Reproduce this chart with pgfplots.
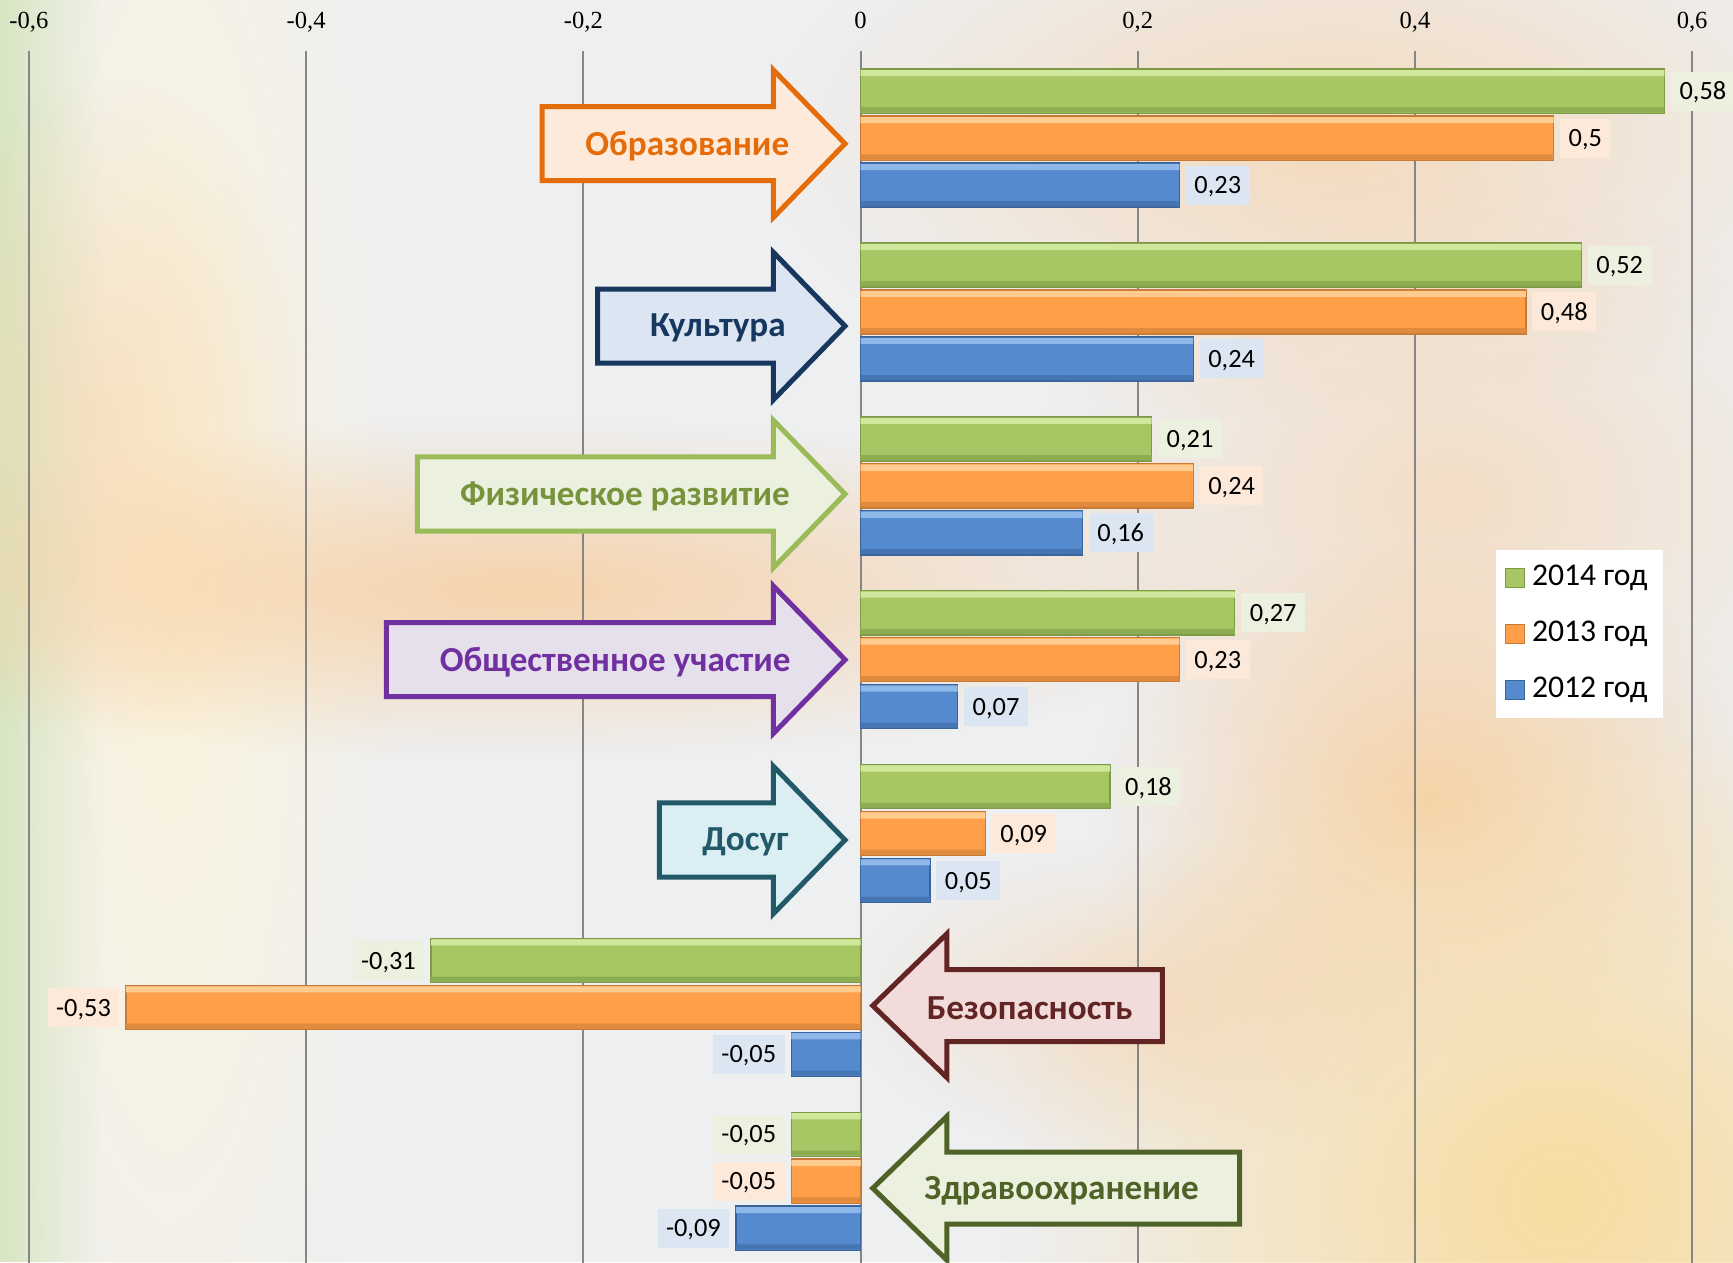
\documentclass[border=0pt]{standalone}
\usepackage{fontspec}
\setmainfont{Carlito}
\newfontfamily\tickfont{Liberation Serif}
\usepackage{pgfplots}
\usepackage{pgfplotstable}
\pgfplotsset{compat=1.18}
\usetikzlibrary{fadings}

\definecolor{bgc}{HTML}{EEEFF1}
\definecolor{peach}{HTML}{F8CC9A}
\definecolor{cream}{HTML}{FBF4DC}
\definecolor{yel}{HTML}{F8DCA0}
\definecolor{lgreenbg}{HTML}{D8E6C2}
\definecolor{gfill}{HTML}{A6C764}
\definecolor{glight}{HTML}{CFE89C}
\definecolor{gdark}{HTML}{7E9A47}
\definecolor{gshad}{HTML}{8DAD52}
\definecolor{ofill}{HTML}{FF9F4A}
\definecolor{olight}{HTML}{FFCB8E}
\definecolor{odark}{HTML}{C77A35}
\definecolor{oshad}{HTML}{E08A3E}
\definecolor{bfill}{HTML}{568ACF}
\definecolor{blight}{HTML}{8EB7EA}
\definecolor{bdark}{HTML}{3A6399}
\definecolor{bshad}{HTML}{4675B3}
\definecolor{glab}{HTML}{EBF1DE}
\definecolor{olab}{HTML}{FDE9D9}
\definecolor{blab}{HTML}{DCE6F2}
\definecolor{gridc}{RGB}{134,134,134}
% arrow colours
\definecolor{a1d}{HTML}{E46C0A}\definecolor{a1f}{HTML}{FDEADA}
\definecolor{a2d}{HTML}{17375E}\definecolor{a2f}{HTML}{DCE6F2}
\definecolor{a3d}{HTML}{9BBB59}\definecolor{a3f}{HTML}{EBF1DE}\definecolor{a3t}{HTML}{77933C}
\definecolor{a4d}{HTML}{7030A0}\definecolor{a4f}{HTML}{E6E0EC}
\definecolor{a5d}{HTML}{215968}\definecolor{a5f}{HTML}{DBEEF4}
\definecolor{a6d}{HTML}{632523}\definecolor{a6f}{HTML}{F2DCDB}
\definecolor{a7d}{HTML}{4F6228}\definecolor{a7f}{HTML}{EBF1DE}

\tikzfading[name=soft, inner color=transparent!0, outer color=transparent!100]

\newcommand{\lblfont}{\fontsize{7.5pt}{9pt}\selectfont}
\newcommand{\arrfont}{\fontsize{10pt}{12pt}\selectfont\bfseries}
\newcommand{\legfont}{\fontsize{9pt}{11pt}\selectfont}
\newcommand{\tickfnt}{\tickfont\fontsize{7pt}{8pt}\selectfont}

% 2014
\pgfplotstableread{
y x l
-0.27 0.58 0,58
0.73 0.52 0,52
1.73 0.21 0,21
2.73 0.27 0,27
3.73 0.18 0,18
}\tgreenp
\pgfplotstableread{
y x l
4.73 -0.31 -0,31
5.73 -0.05 -0,05
}\tgreenn
% 2013
\pgfplotstableread{
y x l
0 0.5 0,5
1 0.48 0,48
2 0.24 0,24
3 0.23 0,23
4 0.09 0,09
}\torangep
\pgfplotstableread{
y x l
5 -0.53 -0,53
6 -0.05 -0,05
}\torangen
% 2012
\pgfplotstableread{
y x l
0.27 0.23 0,23
1.27 0.24 0,24
2.27 0.16 0,16
3.27 0.07 0,07
4.27 0.05 0,05
}\tbluep
\pgfplotstableread{
y x l
5.27 -0.05 -0,05
6.27 -0.09 -0,09
}\tbluen

\begin{document}
\begin{tikzpicture}
\path[use as bounding box] (0,0) rectangle (173.3mm,-126.2mm);
\clip (0,0) rectangle (173.3mm,-126.2mm);
% background
\begin{scope}[x=0.1mm,y=-0.1mm]
\fill[bgc] (0,0) rectangle (1733,1262);
\fill[cream, path fading=soft] (170,560) ellipse (240 and 1100);
\fill[lgreenbg, path fading=east] (0,0) rectangle (100,1262);
\fill[peach, path fading=soft, opacity=0.8] (520,590) ellipse (760 and 170);
\fill[peach, path fading=soft, opacity=0.45] (100,420) ellipse (220 and 340);
\fill[peach, path fading=soft, opacity=0.6] (1330,140) ellipse (560 and 280);
\fill[peach, path fading=soft, opacity=0.5] (1450,500) ellipse (420 and 320);
\fill[peach, path fading=soft, opacity=0.8] (1430,800) ellipse (340 and 260);
\fill[yel, path fading=soft] (1560,1200) ellipse (560 and 520);
\fill[peach, path fading=soft, opacity=0.5] (1150,1000) ellipse (300 and 160);
\end{scope}

\begin{axis}[
  at={(0,-5.12mm)}, anchor=north west,
  width=173.3mm, height=121.7mm, scale only axis,
  xmin=-0.6209, xmax=0.6295, ymin=-0.5, ymax=6.5, y dir=reverse,
  axis line style={draw=none}, tick style={draw=none},
  xtick={-0.6,-0.4,-0.2,0,0.2,0.4,0.6},
  xticklabels={{-0,6},{-0,4},{-0,2},{0},{0,2},{0,4},{0,6}},
  xticklabel pos=right,
  xticklabel style={font=\tickfnt, anchor=base, yshift=2.25mm},
  ytick=\empty,
  xmajorgrids, major grid style={draw=gridc, line width=0.55pt},
  clip=false,
  legend style={at={(0.8626,0.591)}, anchor=north west, draw=none, fill=white,
    font=\legfont, inner xsep=0.9mm, inner ysep=0.85mm, row sep=1.6mm},
  legend cell align=left,
  bar width=0.254,
  every node near coord/.append style={font=\lblfont, text=black, inner xsep=0.85mm,
    inner ysep=0pt, text height=1.97mm, text depth=0.25mm, minimum height=3.9mm, outer xsep=0.66mm},
  pos/.style={nodes near coords, point meta=explicit symbolic,
    nodes near coords style={anchor=west}},
  neg/.style={nodes near coords, point meta=explicit symbolic,
    nodes near coords style={anchor=east}},
  bars/.style={xbar, bar shift=0pt, forget plot, line width=0.4pt},
  strip/.style={xbar, bar shift=0pt, forget plot, draw=none, bar width=#1},
]
% 2014
\addplot[bars, fill=gfill, draw=gdark, pos, nodes near coords style={fill=glab}] table[x=x, y=y, meta=l] {\tgreenp};
\addplot[bars, fill=gfill, draw=gdark, neg, nodes near coords style={fill=glab}] table[x=x, y=y, meta=l] {\tgreenn};
\addplot[strip=0.035, fill=glight] table[x=x, y expr=\thisrow{y}-0.104] {\tgreenp};
\addplot[strip=0.035, fill=glight] table[x=x, y expr=\thisrow{y}-0.104] {\tgreenn};
\addplot[strip=0.03, fill=gshad] table[x=x, y expr=\thisrow{y}+0.108] {\tgreenp};
\addplot[strip=0.03, fill=gshad] table[x=x, y expr=\thisrow{y}+0.108] {\tgreenn};
% 2013
\addplot[bars, fill=ofill, draw=odark, pos, nodes near coords style={fill=olab}] table[x=x, y=y, meta=l] {\torangep};
\addplot[bars, fill=ofill, draw=odark, neg, nodes near coords style={fill=olab}] table[x=x, y=y, meta=l] {\torangen};
\addplot[strip=0.035, fill=olight] table[x=x, y expr=\thisrow{y}-0.104] {\torangep};
\addplot[strip=0.035, fill=olight] table[x=x, y expr=\thisrow{y}-0.104] {\torangen};
\addplot[strip=0.03, fill=oshad] table[x=x, y expr=\thisrow{y}+0.108] {\torangep};
\addplot[strip=0.03, fill=oshad] table[x=x, y expr=\thisrow{y}+0.108] {\torangen};
% 2012
\addplot[bars, fill=bfill, draw=bdark, pos, nodes near coords style={fill=blab}] table[x=x, y=y, meta=l] {\tbluep};
\addplot[bars, fill=bfill, draw=bdark, neg, nodes near coords style={fill=blab}] table[x=x, y=y, meta=l] {\tbluen};
\addplot[strip=0.035, fill=blight] table[x=x, y expr=\thisrow{y}-0.104] {\tbluep};
\addplot[strip=0.035, fill=blight] table[x=x, y expr=\thisrow{y}-0.104] {\tbluen};
\addplot[strip=0.03, fill=bshad] table[x=x, y expr=\thisrow{y}+0.108] {\tbluep};
\addplot[strip=0.03, fill=bshad] table[x=x, y expr=\thisrow{y}+0.108] {\tbluen};

\addlegendimage{legend image code/.code={\draw[fill=gfill, draw=gdark] (0mm,-0.95mm) rectangle (1.9mm,0.95mm);}}
\addlegendentry{2014 год}
\addlegendimage{legend image code/.code={\draw[fill=ofill, draw=odark] (0mm,-0.95mm) rectangle (1.9mm,0.95mm);}}
\addlegendentry{2013 год}
\addlegendimage{legend image code/.code={\draw[fill=bfill, draw=bdark] (0mm,-0.95mm) rectangle (1.9mm,0.95mm);}}
\addlegendentry{2012 год}

% right arrows
\draw[line width=0.5mm, line join=miter, fill=a1f, draw=a1d]
  (axis cs:-0.2297,-0.181) -- (axis cs:-0.063,-0.181) -- (axis cs:-0.063,-0.393) -- (axis cs:-0.0112,0.032)
  -- (axis cs:-0.063,0.457) -- (axis cs:-0.063,0.245) -- (axis cs:-0.2297,0.245) -- cycle;
\node[font=\arrfont, text=a1d] at (axis cs:-0.125,0.045) {Образование};

\draw[line width=0.5mm, line join=miter, fill=a2f, draw=a2d]
  (axis cs:-0.1898,0.868) -- (axis cs:-0.063,0.868) -- (axis cs:-0.063,0.656) -- (axis cs:-0.0112,1.081)
  -- (axis cs:-0.063,1.506) -- (axis cs:-0.063,1.294) -- (axis cs:-0.1898,1.294) -- cycle;
\node[font=\arrfont, text=a2d] at (axis cs:-0.103,1.094) {Культура};

\draw[line width=0.5mm, line join=miter, fill=a3f, draw=a3d]
  (axis cs:-0.3198,1.834) -- (axis cs:-0.063,1.834) -- (axis cs:-0.063,1.622) -- (axis cs:-0.0112,2.047)
  -- (axis cs:-0.063,2.472) -- (axis cs:-0.063,2.260) -- (axis cs:-0.3198,2.260) -- cycle;
\node[font=\arrfont, text=a3t] at (axis cs:-0.170,2.06) {Физическое развитие};

\draw[line width=0.5mm, line join=miter, fill=a4f, draw=a4d]
  (axis cs:-0.3421,2.787) -- (axis cs:-0.063,2.787) -- (axis cs:-0.063,2.575) -- (axis cs:-0.0112,3.0)
  -- (axis cs:-0.063,3.425) -- (axis cs:-0.063,3.213) -- (axis cs:-0.3421,3.213) -- cycle;
\node[font=\arrfont, text=a4d] at (axis cs:-0.177,3.013) {Общественное участие};

\draw[line width=0.5mm, line join=miter, fill=a5f, draw=a5d]
  (axis cs:-0.1451,3.824) -- (axis cs:-0.063,3.824) -- (axis cs:-0.063,3.612) -- (axis cs:-0.0112,4.037)
  -- (axis cs:-0.063,4.462) -- (axis cs:-0.063,4.250) -- (axis cs:-0.1451,4.250) -- cycle;
\node[font=\arrfont, text=a5d] at (axis cs:-0.083,4.05) {Досуг};

% left arrows
\draw[line width=0.5mm, line join=miter, fill=a6f, draw=a6d]
  (axis cs:0.2177,4.783) -- (axis cs:0.0622,4.783) -- (axis cs:0.0622,4.577) -- (axis cs:0.0088,4.99)
  -- (axis cs:0.0622,5.403) -- (axis cs:0.0622,5.197) -- (axis cs:0.2177,5.197) -- cycle;
\node[font=\arrfont, text=a6d] at (axis cs:0.122,5.003) {Безопасность};

\draw[line width=0.5mm, line join=miter, fill=a7f, draw=a7d]
  (axis cs:0.2735,5.833) -- (axis cs:0.0622,5.833) -- (axis cs:0.0622,5.627) -- (axis cs:0.0088,6.04)
  -- (axis cs:0.0622,6.453) -- (axis cs:0.0622,6.247) -- (axis cs:0.2735,6.247) -- cycle;
\node[font=\arrfont, text=a7d] at (axis cs:0.145,6.053) {Здравоохранение};
\end{axis}
\end{tikzpicture}
\end{document}
